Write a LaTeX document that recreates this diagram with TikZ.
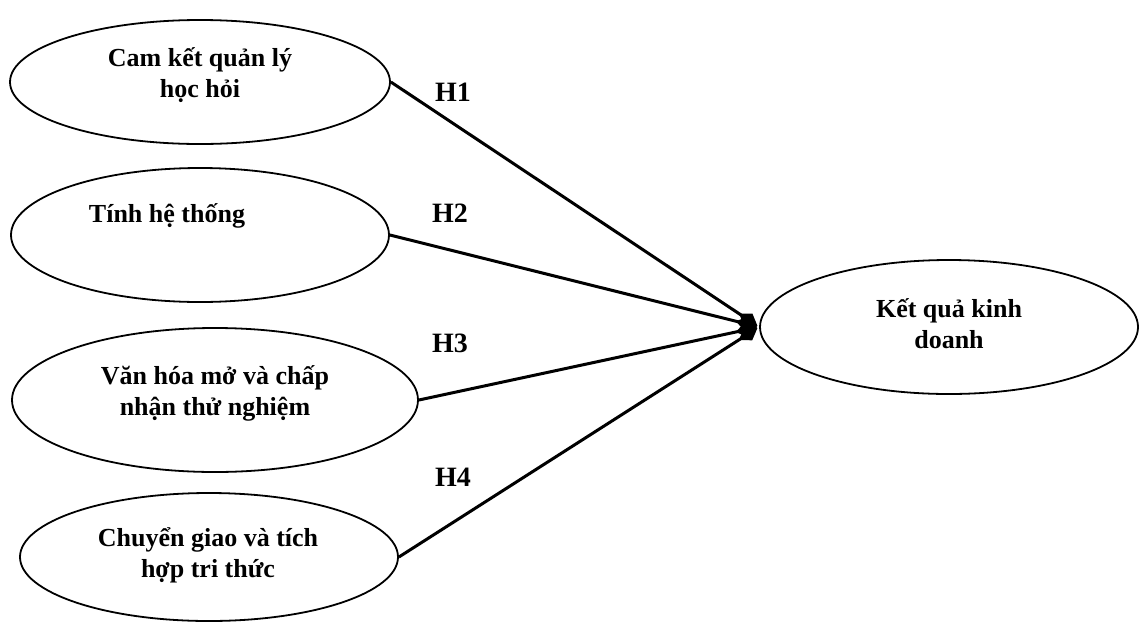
\documentclass[tikz,border=0pt]{standalone}
\usepackage{fontspec}
\setmainfont{Liberation Serif}
\usetikzlibrary{shapes.geometric,arrows.meta}
\begin{document}
\begin{tikzpicture}[x=1pt,y=-1pt,
  oval/.style={draw,ellipse,line width=1.8pt,inner sep=0pt},
  txt/.style={align=center,font=\bfseries\fontsize{26}{31}\selectfont,inner sep=0pt},
  hyp/.style={font=\bfseries\fontsize{28}{30}\selectfont,inner sep=0pt},
  link/.style={line width=3pt,-{Diamond[length=22pt,width=15pt]},shorten >=2pt}]
\useasboundingbox (0,0) rectangle (1140,622);
\node[oval,minimum width=380pt,minimum height=124pt] (e1) at (200,82) {};
\node[oval,minimum width=378pt,minimum height=134pt] (e2) at (200,235) {};
\node[oval,minimum width=406pt,minimum height=144pt] (e3) at (215,400) {};
\node[oval,minimum width=378pt,minimum height=128pt] (e4) at (209,557) {};
\node[oval,minimum width=378pt,minimum height=134pt] (r) at (949,327) {};
\node[txt] (t1) at (200,75) {Cam kết quản lý\\học hỏi};
\node[txt] (t2) at (167,216) {Tính hệ thống};
\node[txt] (t3) at (215,393) {Văn hóa mở và chấp\\nhận thử nghiệm};
\node[txt] (t4) at (208,555) {Chuyển giao và tích\\hợp tri thức};
\node[txt] (tr) at (949,324) {Kết quả kinh\\doanh};
\node[hyp] (h1) at (453,92) {H1};
\node[hyp] (h2) at (450,213) {H2};
\node[hyp] (h3) at (450,343) {H3};
\node[hyp] (h4) at (453,477) {H4};
\draw[link] (e1.east) -- (r.west);
\draw[link] (e2.east) -- (r.west);
\draw[link] (e3.east) -- (r.west);
\draw[link] (e4.east) -- (r.west);
\end{tikzpicture}
\end{document}
